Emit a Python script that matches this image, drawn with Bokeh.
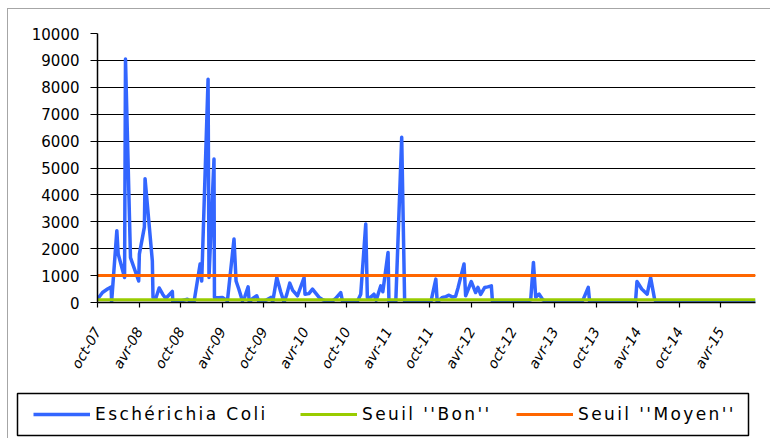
import math
import pandas as pd
from bokeh.plotting import figure
from bokeh.layouts import column, row
from bokeh.models import Range1d, FixedTicker, Legend, LegendItem
from bokeh.embed import file_html
from bokeh.resources import INLINE

# ---- data ----
dates = [
    "2007-10-01", "2007-10-23", "2007-11-14", "2007-11-30", "2007-12-02", "2007-12-25", "2007-12-31",
    "2008-01-28", "2008-02-01", "2008-02-23", "2008-03-30", "2008-04-02", "2008-04-24", "2008-04-27",
    "2008-05-29", "2008-06-01", "2008-06-13", "2008-06-28", "2008-07-14", "2008-07-27", "2008-08-25",
    "2008-08-27", "2008-09-13", "2008-10-01", "2008-10-30", "2008-11-14", "2008-11-28", "2008-12-25",
    "2009-01-01", "2009-01-29", "2009-02-02", "2009-02-24", "2009-02-26", "2009-03-17", "2009-04-02",
    "2009-04-24", "2009-05-23", "2009-06-01", "2009-06-13", "2009-06-29", "2009-07-09", "2009-07-24",
    "2009-07-29", "2009-08-13", "2009-08-31", "2009-09-10", "2009-09-26", "2009-10-14", "2009-11-01",
    "2009-11-09", "2009-11-27", "2009-12-14", "2009-12-29", "2010-01-10", "2010-01-23", "2010-02-05",
    "2010-02-26", "2010-03-27", "2010-03-31", "2010-04-17", "2010-05-03", "2010-05-17", "2010-06-01",
    "2010-06-17", "2010-07-05", "2010-07-23", "2010-08-13", "2010-09-04", "2010-09-12", "2010-09-30",
    "2010-10-18", "2010-11-17", "2010-12-01", "2010-12-23", "2010-12-30", "2011-01-14", "2011-01-28",
    "2011-02-07", "2011-02-27", "2011-03-08", "2011-03-31", "2011-04-04", "2011-04-21", "2011-05-04",
    "2011-05-30", "2011-06-12", "2011-06-21", "2011-07-18", "2011-08-13", "2011-09-08", "2011-10-05",
    "2011-10-27", "2011-11-02", "2011-11-25", "2011-12-10", "2011-12-24", "2012-01-09", "2012-01-22",
    "2012-02-02", "2012-02-28", "2012-03-06", "2012-03-31", "2012-04-19", "2012-04-29", "2012-05-11",
    "2012-05-29", "2012-06-11", "2012-06-27", "2012-07-02", "2012-07-21", "2012-08-16", "2012-09-11",
    "2012-10-08", "2012-11-03", "2012-11-29", "2012-12-17", "2012-12-29", "2013-01-08", "2013-01-23",
    "2013-02-08", "2013-02-25", "2013-03-24", "2013-04-19", "2013-05-15", "2013-06-11", "2013-07-07",
    "2013-08-03", "2013-08-27", "2013-09-02", "2013-09-24", "2013-10-21", "2013-11-16", "2013-12-12",
    "2014-01-08", "2014-02-03", "2014-03-01", "2014-03-23", "2014-03-29", "2014-04-19", "2014-05-13",
    "2014-05-28", "2014-06-15", "2014-06-24", "2014-07-20", "2014-08-16", "2014-09-11", "2014-10-07",
    "2014-11-03", "2014-11-29", "2014-12-25", "2015-01-21", "2015-02-16", "2015-03-14", "2015-04-10",
    "2015-05-06", "2015-06-01", "2015-06-28", "2015-07-24", "2015-08-15", "2015-09-01",
]
ecoli = [
    120, 370, 500, 580, 20, 2670, 1800,
    930, 9050, 1670, 800, 1800, 2800, 4600,
    1550, 190, 150, 540, 300, 150, 410,
    20, 40, 60, 120, 40, 10, 1430,
    800, 8300, 930, 5330, 190, 180, 190,
    60, 2360, 800, 500, 60, 200, 580,
    10, 150, 250, 10, 40, 100, 190,
    20, 930, 400, 10, 300, 720, 450,
    250, 930, 310, 330, 500, 350, 190,
    100, 50, 10, 150, 370, 40, 60,
    50, 60, 310, 2920, 190, 200, 310,
    80, 620, 400, 1860, 10, 20, 30,
    6140, 10, 40, 30, 50, 20, 10,
    870, 20, 190, 220, 270, 200, 230,
    560, 1430, 250, 780, 370, 560, 300,
    560, 580, 620, 20, 40, 30, 60,
    20, 40, 50, 100, 1490, 200, 310,
    100, 40, 30, 60, 20, 50, 30,
    80, 560, 20, 40, 30, 60, 20,
    40, 50, 30, 60, 780, 500, 310,
    930, 100, 20, 50, 30, 60, 20,
    40, 50, 30, 60, 20, 40, 60,
    30, 50, 20, 40, 30, 60,
]
seuil_bon = 100
seuil_moyen = 1000

series_names = ["Eschérichia Coli", "Seuil ''Bon''", "Seuil ''Moyen''"]
series_colors = ["#3366FF", "#99CC00", "#FF6600"]
series_widths = [3.5, 3, 3]

tick_dates = [
    "2007-10-01", "2008-04-01", "2008-10-01", "2009-04-01", "2009-10-01", "2010-04-01",
    "2010-10-01", "2011-04-01", "2011-10-01", "2012-04-01", "2012-10-01", "2013-04-01",
    "2013-10-01", "2014-04-01", "2014-10-01", "2015-04-01",
]
tick_labels = [
    "oct-07", "avr-08", "oct-08", "avr-09", "oct-09", "avr-10", "oct-10", "avr-11",
    "oct-11", "avr-12", "oct-12", "avr-13", "oct-13", "avr-14", "oct-14", "avr-15",
]
y_ticks = [0, 1000, 2000, 3000, 4000, 5000, 6000, 7000, 8000, 9000, 10000]

x = pd.to_datetime(dates)
tick_ms = [int(t.value // 10**6) for t in pd.to_datetime(tick_dates)]


def add_series(fig):
    r1 = fig.line(x, ecoli, line_color=series_colors[0], line_width=series_widths[0], line_join="round")
    r2 = fig.line([x[0], x[-1]], [seuil_bon, seuil_bon], line_color=series_colors[1], line_width=series_widths[1])
    r3 = fig.line([x[0], x[-1]], [seuil_moyen, seuil_moyen], line_color=series_colors[2], line_width=series_widths[2])
    return [r1, r2, r3]


# ---- main chart ----
p = figure(
    width=762, height=381, x_axis_type="datetime",
    output_backend="svg", toolbar_location=None,
    x_range=Range1d(x[0], x[-1]), y_range=Range1d(0, 10000),
    min_border_left=89, min_border_right=15, min_border_top=24, min_border_bottom=88,
)
p.outline_line_color = None
p.background_fill_color = "white"
p.border_fill_color = "white"
add_series(p)

p.xgrid.visible = False
p.ygrid.grid_line_color = "black"
p.ygrid.grid_line_width = 1.2

xa = p.xaxis[0]
xa.ticker = FixedTicker(ticks=tick_ms)
xa.major_label_overrides = {ms: lab for ms, lab in zip(tick_ms, tick_labels)}
xa.major_label_orientation = math.pi / 3
xa.major_label_text_font = "DejaVu Sans"
xa.major_label_text_font_style = "italic"
xa.major_label_text_font_size = "14px"
xa.major_label_text_color = "black"
xa.major_label_standoff = 21
xa.major_tick_in = 0
xa.major_tick_out = 5
xa.minor_tick_line_color = None
xa.axis_line_color = "black"
xa.axis_line_width = 1.5
xa.major_tick_line_color = "black"
xa.major_tick_line_width = 1.2

ya = p.yaxis[0]
ya.ticker = FixedTicker(ticks=y_ticks)
ya.major_label_text_font = "DejaVu Sans"
ya.major_label_text_font_size = "15px"
ya.major_label_text_color = "black"
ya.major_label_standoff = 11
ya.major_tick_in = 0
ya.major_tick_out = 7
ya.minor_tick_line_color = None
ya.axis_line_color = "black"
ya.axis_line_width = 1.5
ya.major_tick_line_color = "black"
ya.major_tick_line_width = 1.2

# ---- legend strip (boxed, below the chart); its own ranges keep the series out of view ----
leg = figure(
    width=762, height=48, output_backend="svg", toolbar_location=None,
    x_range=Range1d(0, 1), y_range=Range1d(0, 1),
    min_border_left=9, min_border_right=22, min_border_top=3, min_border_bottom=3,
    x_axis_location=None, y_axis_location=None,
)
leg.grid.visible = False
leg.outline_line_color = "black"
leg.outline_line_width = 1.5
leg.background_fill_color = "white"
leg.border_fill_color = "white"
leg.styles = {"letter-spacing": "2.4px"}
sw = add_series(leg)

item_offsets = [16, 283, 499]
for name, rend, off in zip(series_names, sw, item_offsets):
    lg = Legend(
        items=[LegendItem(label=name, renderers=[rend])],
        location=(off, 11),
        border_line_color=None, background_fill_alpha=0,
        padding=0, spacing=0, margin=0,
        glyph_width=57, glyph_height=20, label_height=20, label_standoff=5,
        label_text_font="DejaVu Sans", label_text_font_size="17px", label_text_color="black",
    )
    leg.add_layout(lg)

layout = column(p, row(leg), spacing=0)
layout.styles = {
    "margin-left": "7px", "margin-top": "8px",
    "border-left": "1px solid #a6a6a6", "border-top": "1px solid #a6a6a6",
}

open("out.html", "w").write(file_html(layout, INLINE))
